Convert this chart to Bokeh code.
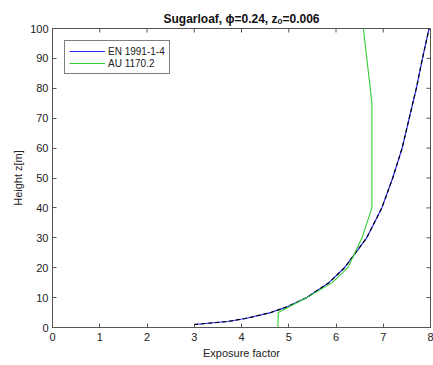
from bokeh.plotting import figure
from bokeh.models import FixedTicker, Legend, LegendItem, Range1d
from bokeh.embed import file_html
from bokeh.resources import INLINE
import math

# EN 1991-1-4 curve (exposure factor vs height)
en_height = [1, 2, 3, 5, 7, 10, 15, 20, 30, 40, 50, 60, 70, 80, 90, 100]
en_factor = [3.0, 3.7, 4.08, 4.62, 4.98, 5.38, 5.85, 6.18, 6.65, 6.97, 7.2, 7.4, 7.55, 7.7, 7.83, 7.97]

# AU 1170.2 curve
au_height = [0, 5, 10, 15, 20, 30, 40, 75, 100]
au_factor = [4.77, 4.78, 5.38, 5.92, 6.25, 6.55, 6.76, 6.76, 6.58]

x_ticks = [0, 1, 2, 3, 4, 5, 6, 7, 8]
y_ticks = [0, 10, 20, 30, 40, 50, 60, 70, 80, 90, 100]

FONT = "Liberation Sans"
AXC = "#555555"

p = figure(width=433, height=365, output_backend="svg", toolbar_location=None,
           x_range=Range1d(0, 8), y_range=Range1d(0, 100),
           min_border_left=52, min_border_right=3, min_border_top=28, min_border_bottom=38)
p.background_fill_color = "white"
p.border_fill_color = "white"
p.outline_line_color = AXC
p.xgrid.visible = False
p.ygrid.visible = False

p.title.text = "Sugarloaf, \u03d5=0.24, z\u2092=0.006"
p.title.align = "center"
p.title.text_font = FONT
p.title.text_font_size = "12px"
p.title.text_font_style = "bold"
p.title.text_color = "#111111"
p.title.offset = 0
p.title.standoff = 5

def style_axis(ax):
    ax.axis_line_color = AXC
    ax.major_tick_line_color = AXC
    ax.minor_tick_line_color = None
    ax.major_tick_in = 4
    ax.major_tick_out = 0
    ax.major_label_text_font = FONT
    ax.major_label_text_font_size = "11px"
    ax.major_label_text_color = "#222222"
    ax.axis_label_text_font = FONT
    ax.axis_label_text_font_size = "11px"
    ax.axis_label_text_font_style = "normal"
    ax.axis_label_text_color = "#222222"

p.xaxis.ticker = FixedTicker(ticks=x_ticks)
p.yaxis.ticker = FixedTicker(ticks=y_ticks)
p.xaxis.axis_label = "Exposure factor"
p.yaxis.axis_label = "Height z[m]"
style_axis(p.xaxis[0])
style_axis(p.yaxis[0])
p.xaxis.major_label_standoff = 5
p.yaxis.major_label_standoff = 4
p.xaxis.axis_label_standoff = 3
p.yaxis.axis_label_standoff = 3

# inward tick marks on the top and right edges of the box (clipped to the frame)
p.scatter(x_ticks, [100] * len(x_ticks), marker="dash", angle=math.pi / 2,
          size=8, line_color=AXC, line_width=1)
p.scatter([8] * len(y_ticks), y_ticks, marker="dash",
          size=8, line_color=AXC, line_width=1)

r_en = p.line(en_factor, en_height, line_color="#2a2aff", line_width=1.2)
p.line(en_factor, en_height, line_color="#000000", line_width=1.2, line_dash="4 3")
r_au = p.line(au_factor, au_height, line_color="#33cc33", line_width=1.1)

legend = Legend(items=[LegendItem(label="EN 1991-1-4", renderers=[r_en]),
                       LegendItem(label="AU 1170.2", renderers=[r_au])],
                location="top_left")
legend.margin = 12
legend.padding = 4
legend.spacing = 0
legend.glyph_width = 36
legend.glyph_height = 12
legend.label_height = 12
legend.label_standoff = 3
legend.label_text_font = FONT
legend.label_text_font_size = "10px"
legend.label_text_color = "#222222"
legend.border_line_color = "black"
legend.border_line_width = 1
legend.background_fill_color = "white"
p.add_layout(legend, "center")

open("out.html", "w").write(file_html(p, INLINE))
